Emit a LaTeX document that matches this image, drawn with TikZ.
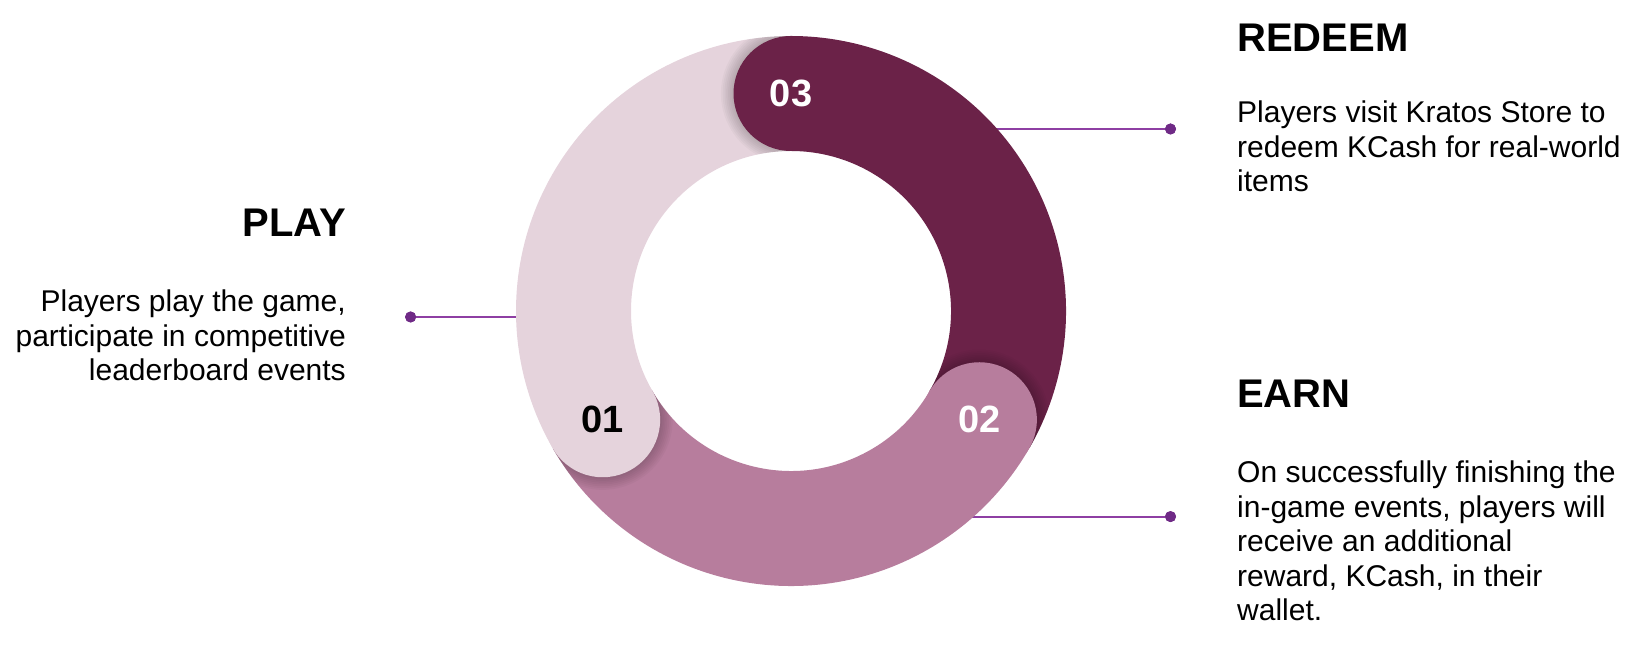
\documentclass[tikz,border=0pt]{standalone}
\usepackage{fontspec}
\setmainfont{Liberation Sans}
\definecolor{ringlight}{HTML}{E5D3DC}
\definecolor{ringmauve}{HTML}{B77D9D}
\definecolor{ringdark}{HTML}{6B2248}
\definecolor{linecol}{HTML}{8E3FA3}
\definecolor{dotcol}{HTML}{6F2A86}
\begin{document}
\begin{tikzpicture}[x=1pt,y=1pt,
  body/.style={font=\fontsize{30}{34.5}\selectfont, inner sep=0pt},
  heading/.style={font=\fontsize{40}{44}\selectfont\bfseries, inner sep=0pt},
  capnode/.style={circle, minimum size=115pt, inner sep=0pt, font=\fontsize{38}{40}\selectfont\bfseries},
  conn/.style={draw=linecol, line width=2pt},
  dotnode/.style={circle, fill=dotcol, minimum size=11pt, inner sep=0pt},
  seg/.style={line width=115pt},
]
\useasboundingbox (0,0) rectangle (1630,650);
\coordinate (C) at (791,339);

% connectors (behind the ring)
\node[dotnode] (d1) at (410.6,333) {};
\coordinate (e1) at (600,333);
\node[dotnode] (d3) at (1170.5,521) {};
\coordinate (e3) at (950,521);
\node[dotnode] (d2) at (1170.5,133.4) {};
\coordinate (e2) at (930,133.4);
\draw[conn] (e1) -- (d1);
\draw[conn] (e3) -- (d3);
\draw[conn] (e2) -- (d2);
\node[dotnode] at (d1) {};
\node[dotnode] at (d2) {};
\node[dotnode] at (d3) {};

% ring segments
\draw[seg, draw=ringlight] ([shift={(90:217.5)}]C) arc[start angle=90, end angle=210, radius=217.5];
\draw[seg, draw=ringdark] ([shift={(-30:217.5)}]C) arc[start angle=-30, end angle=90, radius=217.5];
\draw[seg, draw=ringmauve] ([shift={(-150:217.5)}]C) arc[start angle=-150, end angle=-30, radius=217.5];

% soft shadows of the rounded heads, kept inside the ring
\foreach \a in {210,-30,90}{
  \begin{scope}
    \clip (C) -- ++(\a:420) arc[start angle=\a, end angle=\a+100, radius=420] -- cycle;
    \begin{scope}[even odd rule]
      \clip (C) circle[radius=275] (C) circle[radius=160];
      \foreach \k in {1,...,7}{
        \fill[black, opacity=0.028] ([shift={(\a:217.5)}]C) circle[radius=57.5+\k*1.8];
      }
    \end{scope}
  \end{scope}
}

% rounded heads with numbers
\node[capnode, fill=ringlight, text=black] (c1) at ([shift={(210:217.5)}]C) {01};
\node[capnode, fill=ringmauve, text=white] (c2) at ([shift={(-30:217.5)}]C) {02};
\node[capnode, fill=ringdark, text=white] (c3) at ([shift={(90:217.5)}]C) {03};

% texts
\node[heading, anchor=base east] (h1) at (346,413) {PLAY};
\node[body, anchor=north east, align=right] (t1) at (346,360) {Players play the game,\\participate in competitive\\leaderboard events};

\node[heading, anchor=base west] (h3) at (1237,598) {REDEEM};
\node[body, anchor=north west, align=left] (t3) at (1237,549.4) {Players visit Kratos Store to\\redeem KCash for real-world\\items};

\node[heading, anchor=base west] (h2) at (1237,242) {EARN};
\node[body, anchor=north west, align=left] (t2) at (1237,189) {On successfully finishing the\\in-game events, players will\\receive an additional\\reward, KCash, in their\\wallet.};
\end{tikzpicture}
\end{document}
